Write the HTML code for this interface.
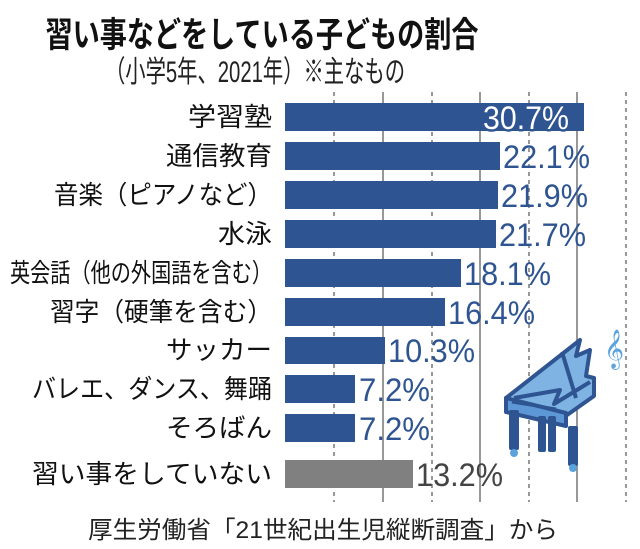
<!DOCTYPE html>
<html><head><meta charset="utf-8"><style>
html,body{margin:0;padding:0;background:#fff;}
svg{display:block;font-family:"Liberation Sans","Noto Sans CJK JP",sans-serif;}
</style></head><body>
<svg width="640" height="549" viewBox="0 0 640 549" xmlns="http://www.w3.org/2000/svg">
<text x="262" y="47" text-anchor="middle" font-size="35" font-weight="bold" fill="#111" textLength="433" lengthAdjust="spacingAndGlyphs">習い事などをしている子どもの割合</text>
<text x="255" y="82" text-anchor="middle" font-size="30" fill="#222" textLength="300" lengthAdjust="spacingAndGlyphs">（小学5年、2021年）※主なもの</text>
<g stroke="#777" stroke-width="1.5">
<line x1="334" y1="92" x2="334" y2="502" stroke-dasharray="4,4"/>
<line x1="383" y1="92" x2="383" y2="502"/>
<line x1="432" y1="92" x2="432" y2="502" stroke-dasharray="4,4"/>
<line x1="480" y1="92" x2="480" y2="502"/>
<line x1="529" y1="92" x2="529" y2="502" stroke-dasharray="4,4"/>
<line x1="577" y1="92" x2="577" y2="502"/>
<line x1="626" y1="92" x2="626" y2="502" stroke-dasharray="4,4"/>
</g>
<g fill="#2e5591">
<rect x="285" y="103" width="299" height="28"/>
<rect x="285" y="142" width="215" height="28"/>
<rect x="285" y="181" width="213" height="28"/>
<rect x="285" y="220" width="211" height="28"/>
<rect x="285" y="259" width="176" height="28"/>
<rect x="285" y="298" width="160" height="28"/>
<rect x="285" y="337" width="100" height="27"/>
<rect x="285" y="375" width="70" height="28"/>
<rect x="285" y="414" width="70" height="28"/>
</g>
<rect x="285" y="460" width="128" height="28" fill="#808080"/>
<g font-size="26" fill="#111" text-anchor="end">
<text x="272" y="126" textLength="84" lengthAdjust="spacingAndGlyphs">学習塾</text>
<text x="272" y="165" textLength="106" lengthAdjust="spacingAndGlyphs">通信教育</text>
<text x="272" y="204" textLength="218" lengthAdjust="spacingAndGlyphs">音楽（ピアノなど）</text>
<text x="272" y="243" textLength="54" lengthAdjust="spacingAndGlyphs">水泳</text>
<text x="272" y="282" textLength="262" lengthAdjust="spacingAndGlyphs">英会話（他の外国語を含む）</text>
<text x="272" y="321" textLength="222" lengthAdjust="spacingAndGlyphs">習字（硬筆を含む）</text>
<text x="272" y="359" textLength="106" lengthAdjust="spacingAndGlyphs">サッカー</text>
<text x="272" y="398" textLength="240" lengthAdjust="spacingAndGlyphs">バレエ、ダンス、舞踊</text>
<text x="272" y="437" textLength="106" lengthAdjust="spacingAndGlyphs">そろばん</text>
<text x="272" y="483" textLength="240" lengthAdjust="spacingAndGlyphs">習い事をしていない</text>
</g>
<g font-size="32" fill="#2e5591">
<text x="483" y="129" fill="#fff" stroke="#2e5591" stroke-width="5" paint-order="stroke" stroke-linejoin="round" textLength="86" lengthAdjust="spacingAndGlyphs">30.7%</text>
<text x="503" y="168" textLength="87" lengthAdjust="spacingAndGlyphs">22.1%</text>
<text x="501" y="207" textLength="87" lengthAdjust="spacingAndGlyphs">21.9%</text>
<text x="499" y="246" textLength="87" lengthAdjust="spacingAndGlyphs">21.7%</text>
<text x="464" y="285" textLength="87" lengthAdjust="spacingAndGlyphs">18.1%</text>
<text x="448" y="324" textLength="87" lengthAdjust="spacingAndGlyphs">16.4%</text>
<text x="388" y="362" textLength="87" lengthAdjust="spacingAndGlyphs">10.3%</text>
<text x="359" y="401" textLength="71" lengthAdjust="spacingAndGlyphs">7.2%</text>
<text x="359" y="440" textLength="71" lengthAdjust="spacingAndGlyphs">7.2%</text>
<text x="416" y="486" fill="#444" textLength="87" lengthAdjust="spacingAndGlyphs">13.2%</text>
</g>
<text x="88" y="538" font-size="24" fill="#222" textLength="470" lengthAdjust="spacingAndGlyphs">厚生労働省「21世紀出生児縦断調査」から</text>
<text x="604" y="360" font-size="34" fill="#5ba3dc" font-family="DejaVu Sans,sans-serif">𝄞</text>
<g stroke="#2e5591" stroke-width="4" stroke-linejoin="round" fill="#7fb3e3">
<path d="M506,398 L580,340 L576,356 L590,350 L586,376 L594,378 L594,396 L560,420 L506,410 Z"/>
<path d="M514,398 L560,390 L554,404 L590,382" fill="none"/>
<path d="M506,398 L566,413 L566,426 L506,412 Z" fill="#5d97d6"/>
<path d="M512,402 L556,409" fill="none" stroke-width="3"/>
<line x1="562" y1="352" x2="576" y2="398"/>
<rect x="511" y="412" width="6" height="36" fill="#2e5591"/>
<rect x="570" y="428" width="6" height="36" fill="#2e5591"/>
<rect x="540" y="418" width="4" height="32" fill="#2e5591"/>
<rect x="550" y="418" width="4" height="32" fill="#2e5591"/>
</g>
<circle cx="514" cy="453" r="4" fill="#5ba3dc"/>
<circle cx="573" cy="468" r="4" fill="#5ba3dc"/>
</svg>
</body></html>
